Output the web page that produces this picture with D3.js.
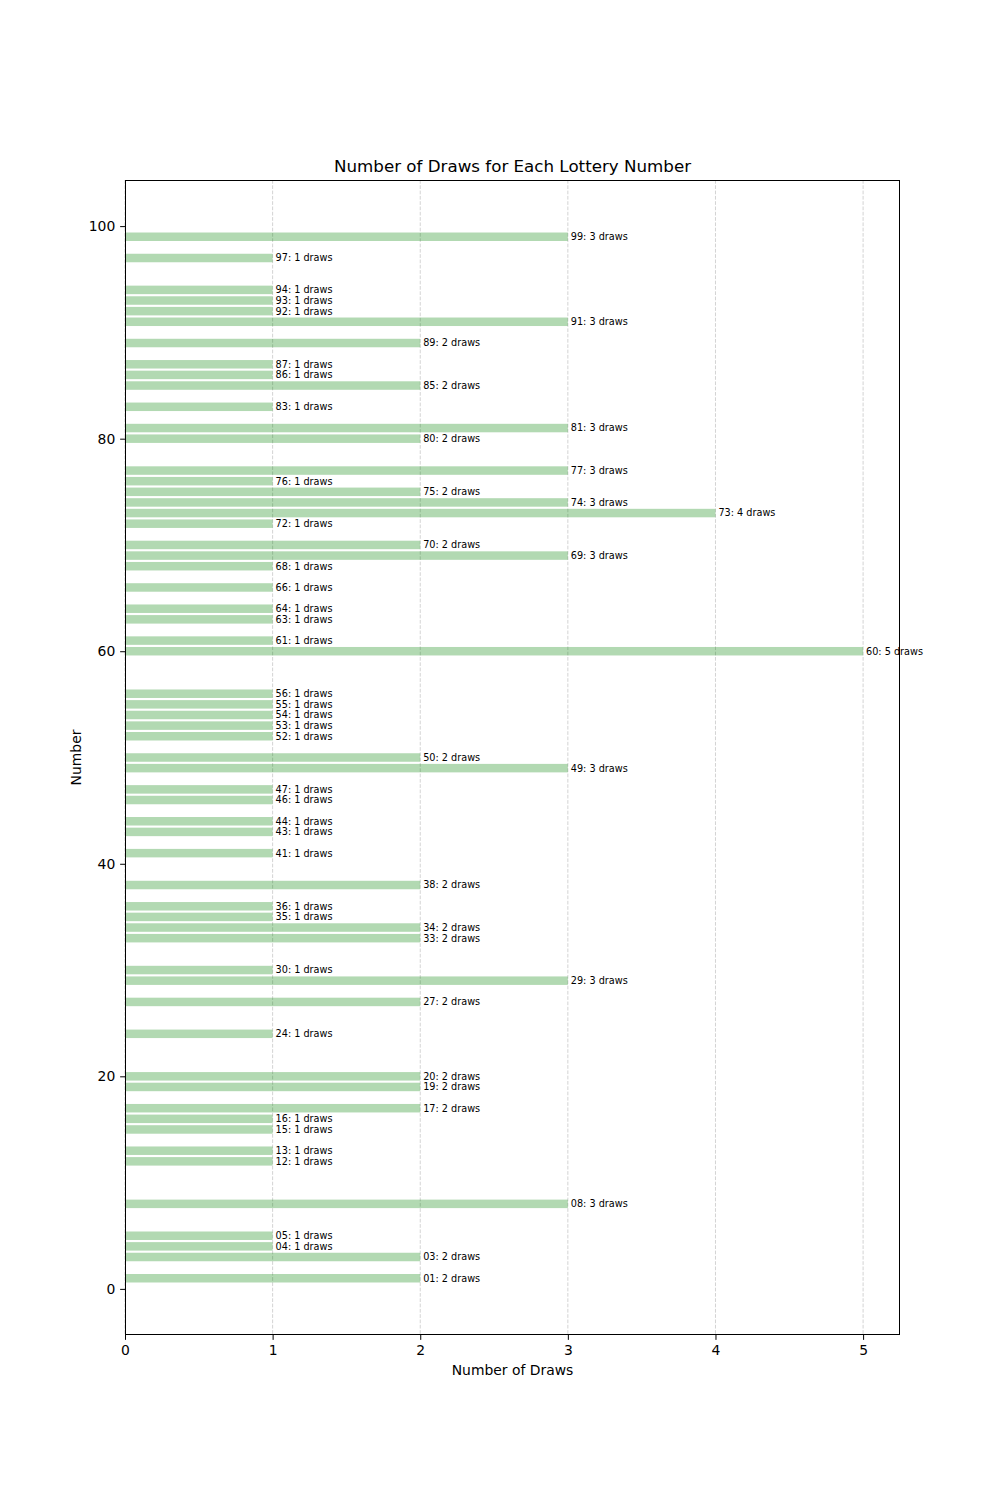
<!DOCTYPE html>
<html>
<head>
<meta charset="utf-8">
<script src="https://cdn.jsdelivr.net/npm/d3@7"></script>
<style>
  body { margin: 0; background: #fff; }
  svg { display: block; }
  text { font-family: "DejaVu Sans", sans-serif; fill: #000; }
</style>
</head>
<body>
<div id="chart"></div>
<script>
const numbers = [1, 3, 4, 5, 8, 12, 13, 15, 16, 17, 19, 20, 24, 27, 29, 30, 33, 34, 35, 36, 38, 41, 43, 44, 46, 47, 49, 50, 52, 53, 54, 55, 56, 60, 61, 63, 64, 66, 68, 69, 70, 72, 73, 74, 75, 76, 77, 80, 81, 83, 85, 86, 87, 89, 91, 92, 93, 94, 97, 99];
const draws = [2, 2, 1, 1, 3, 1, 1, 1, 1, 2, 2, 2, 1, 2, 3, 1, 2, 2, 1, 1, 2, 1, 1, 1, 1, 1, 3, 2, 1, 1, 1, 1, 1, 5, 1, 1, 1, 1, 1, 3, 2, 1, 4, 3, 2, 1, 3, 2, 3, 1, 2, 1, 1, 2, 3, 1, 1, 1, 1, 3];
const xTicks = [0, 1, 2, 3, 4, 5];
const yTicks = [0, 20, 40, 60, 80, 100];
const titleText = "Number of Draws for Each Lottery Number";
const xLabel = "Number of Draws";
const yLabel = "Number";

const data = numbers.map((n, i) => ({ n, v: draws[i] }));

const W = 1000, H = 1500;
const L = 125, R = 900, T = 180, B = 1335;
const barH = 0.8;

const svg = d3.select("#chart").append("svg").attr("width", W).attr("height", H);

const yMin = d3.min(numbers) - barH / 2, yMax = d3.max(numbers) + barH / 2;
const pad = (yMax - yMin) * 0.05;
const x = d3.scaleLinear().domain([0, 5.25]).range([L, R]);
const y = d3.scaleLinear().domain([yMin - pad, yMax + pad]).range([B, T]);

// grid
svg.append("g").selectAll("line").data(xTicks).join("line")
  .attr("x1", d => x(d)).attr("x2", d => x(d))
  .attr("y1", T).attr("y2", B)
  .attr("stroke", "#b0b0b0").attr("stroke-opacity", 0.7)
  .attr("stroke-width", 0.8).attr("stroke-dasharray", "3.7,1.6");

// bars
svg.append("g").selectAll("rect").data(data).join("rect")
  .attr("x", x(0))
  .attr("y", d => y(d.n + barH / 2))
  .attr("width", d => x(d.v) - x(0))
  .attr("height", d => y(d.n - barH / 2) - y(d.n + barH / 2))
  .attr("fill", "green").attr("fill-opacity", 0.3);

// labels
svg.append("g").selectAll("text").data(data).join("text")
  .attr("x", d => x(d.v + 0.02))
  .attr("y", d => y(d.n))
  .attr("dy", "0.35em")
  .attr("font-size", "9.7px")
  .text(d => `${String(d.n).padStart(2, "0")}: ${d.v} draws`);

// axes
const xAxis = d3.axisBottom(x).tickValues(xTicks).tickFormat(d3.format("d")).tickSize(4.86).tickPadding(4.86);
const yAxis = d3.axisLeft(y).tickValues(yTicks).tickFormat(d3.format("d")).tickSize(4.86).tickPadding(4.86);

const gx = svg.append("g").attr("transform", `translate(0,${B})`).call(xAxis);
const gy = svg.append("g").attr("transform", `translate(${L},0)`).call(yAxis);
[gx, gy].forEach(g => {
  g.select(".domain").remove();
  g.selectAll(".tick line").attr("stroke", "#000").attr("stroke-width", 1);
  g.selectAll(".tick text").attr("font-size", "13.9px").attr("font-family", "DejaVu Sans, sans-serif").attr("fill", "#000");
});

// frame
svg.append("rect").attr("x", L + 0.5).attr("y", T + 0.5).attr("width", R - L - 1).attr("height", B - T - 1)
  .attr("fill", "none").attr("stroke", "#000").attr("stroke-width", 1);

// title & labels
svg.append("text").attr("x", (L + R) / 2).attr("y", 171.5)
  .attr("text-anchor", "middle").attr("font-size", "16.7px").text(titleText);
svg.append("text").attr("x", (L + R) / 2).attr("y", 1375)
  .attr("text-anchor", "middle").attr("font-size", "13.9px").text(xLabel);
svg.append("text").attr("transform", `translate(81,${(T + B) / 2}) rotate(-90)`)
  .attr("text-anchor", "middle").attr("font-size", "13.9px").text(yLabel);
</script>
</body>
</html>
